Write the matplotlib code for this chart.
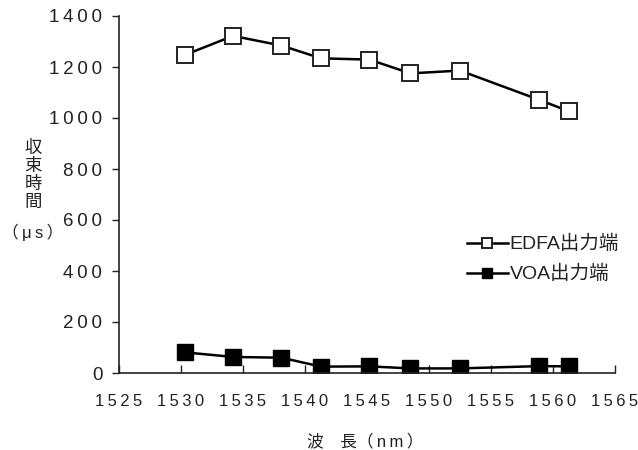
import matplotlib
matplotlib.use("Agg")
import matplotlib.pyplot as plt
from matplotlib.ticker import FixedLocator, FixedFormatter

plt.rcParams['font.family'] = ['Liberation Sans', 'Noto Sans CJK JP', 'DejaVu Sans']

# data
wavelength = [1530.3, 1534.2, 1538.1, 1541.3, 1545.2, 1548.5, 1552.5, 1558.9, 1561.3]
edfa = [1247, 1322, 1284, 1234, 1229, 1175, 1186, 1071, 1026]
voa = [81, 63, 60, 25, 26, 18, 18, 27, 26]
x_ticks = [1525, 1530, 1535, 1540, 1545, 1550, 1555, 1560, 1565]
y_ticks = [0, 200, 400, 600, 800, 1000, 1200, 1400]
series_names = ['EDFA出力端', 'VOA出力端']
ylabel_chars = ['収', '束', '時', '間']

W, H = 638, 450
ink = '#222222'


def spaced(v):
    return '\u2009'.join(str(v))


fig = plt.figure(figsize=(W / 100, H / 100), dpi=100)
ax = fig.add_axes([119 / W, 1 - 373 / H, 496 / W, 357 / H])

ax.plot(wavelength, edfa, color='black', lw=1.8, marker='s', ms=11,
        mfc='white', mec=ink, mew=1.4, label=series_names[0])
ax.plot(wavelength, voa, color='black', lw=1.8, marker='s', ms=11,
        mfc='black', mec='black', mew=1.0, label=series_names[1])

ax.set_xlim(1525, 1565)
ax.set_ylim(0, 1400)
ax.xaxis.set_major_locator(FixedLocator(x_ticks))
ax.xaxis.set_major_formatter(FixedFormatter([spaced(t) for t in x_ticks]))
ax.yaxis.set_major_locator(FixedLocator(y_ticks))
ax.yaxis.set_major_formatter(FixedFormatter([spaced(t) for t in y_ticks]))

for s in ['top', 'right']:
    ax.spines[s].set_visible(False)
for s in ['left', 'bottom']:
    ax.spines[s].set_linewidth(1.2)
    ax.spines[s].set_color(ink)

ax.tick_params(axis='x', direction='in', length=6, width=1.0, pad=15,
               labelsize=12, colors=ink)
ax.tick_params(axis='y', direction='out', length=5, width=1.0, pad=7,
               labelsize=13.5, colors=ink)

# vertical y label, one character per line
for i, ch in enumerate(ylabel_chars):
    fig.text(33 / W, 1 - (148 + 18 * i) / H, ch, fontsize=12.5, color=ink,
             ha='center', va='center')
fig.text(33 / W, 1 - 232 / H, '（\u2009μ\u2009s\u2009）', fontsize=12, color=ink,
         ha='center', va='center')
fig.text(365 / W, 1 - 441 / H, '波　長（\u2009n\u2009m\u2009）', fontsize=12, color=ink,
         ha='center', va='center')

leg = ax.legend(loc='upper left', bbox_to_anchor=((467 - 119) / 496, (373 - 235) / 357),
                frameon=False, fontsize=14, handlelength=2.1, handletextpad=0.1,
                labelspacing=0.6, markerscale=0.6, borderpad=0, borderaxespad=0)
for t in leg.get_texts():
    t.set_color(ink)

fig.savefig('out.png', dpi=100)
